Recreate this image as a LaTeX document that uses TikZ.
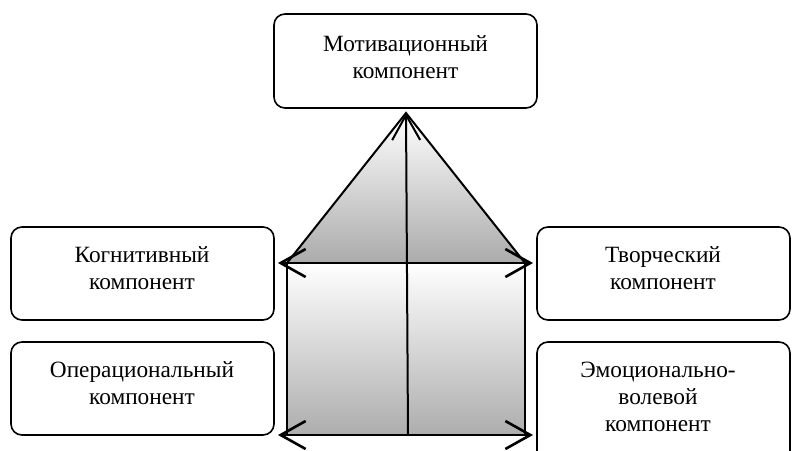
\documentclass[tikz,border=0pt]{standalone}
\usepackage{fontspec}
\setmainfont{Liberation Serif}
\usetikzlibrary{arrows.meta}
\begin{document}
\begin{tikzpicture}[x=1pt,y=-1pt,
  box/.style={draw=black, line width=1.6pt, rounded corners=11pt, fill=white},
  lbl/.style={align=center, font=\fontsize{23.3}{27}\selectfont, inner sep=0pt},
  arr/.style={line width=2.6pt, {Straight Barb[length=25pt,width=28pt]}-{Straight Barb[length=25pt,width=28pt]}},
  uparr/.style={line width=2pt, -{Straight Barb[length=25pt,width=28pt]}},
  edge/.style={draw=black, line width=2pt}]
\useasboundingbox (0,0) rectangle (792,450);
% boxes
\draw[box] (274,14) rectangle (537,108);
\node[lbl] (mot) at (405.5,57) {Мотивационный\\компонент};
\draw[box] (11,227) rectangle (274,320);
\node[lbl] (kog) at (142,268) {Когнитивный\\компонент};
\draw[box] (11,342) rectangle (274,435);
\node[lbl] (oper) at (142,383) {Операциональный\\компонент};
\draw[box] (537,227) rectangle (790,320);
\node[lbl] (tvor) at (663,268) {Творческий\\компонент};
\draw[box] (537,342) rectangle (790,470);
\node[lbl] (emo) at (658,397) {Эмоционально-\\волевой\\компонент};
% house
\coordinate (apex) at (406,113);
\coordinate (bl) at (287,263);
\coordinate (br) at (525,263);
\coordinate (fl) at (287,435);
\coordinate (fr) at (525,435);
\shade[top color=white, bottom color=black!33] (apex) -- (br) -- (bl) -- cycle;
\shade[top color=white, bottom color=black!32] (bl) rectangle (fr);
\draw[edge] (bl) -- (apex) -- (br);
\draw[line width=1.6pt] (bl) -- (fl) (br) -- (fr);
\coordinate (hl) at (278,263);
\coordinate (hr) at (533,263);
\coordinate (gl) at (278,435);
\coordinate (gr) at (533,435);
\coordinate (vb) at (408,435);
\draw[arr] (hl) -- (hr);
\draw[arr] (gl) -- (gr);
\draw[uparr] (vb) -- (apex);
\end{tikzpicture}
\end{document}
